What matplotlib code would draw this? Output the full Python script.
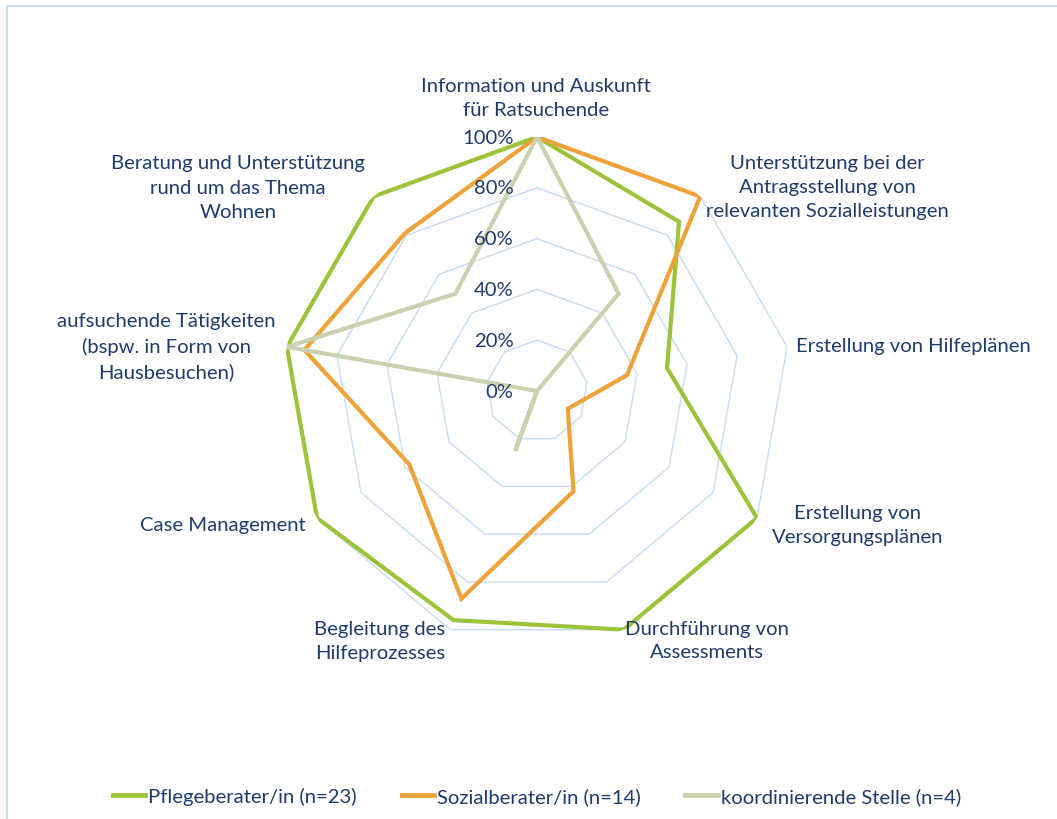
import numpy as np
import matplotlib
matplotlib.use("Agg")
import matplotlib.pyplot as plt
from matplotlib.lines import Line2D
from matplotlib.patches import Rectangle

plt.rcParams['font.family'] = ['Lato', 'DejaVu Sans']

categories = [
    "Information und Auskunft\nfür Ratsuchende",
    "Unterstützung bei der\nAntragsstellung von\nrelevanten Sozialleistungen",
    "Erstellung von Hilfeplänen",
    "Erstellung von\nVersorgungsplänen",
    "Durchführung von\nAssessments",
    "Begleitung des\nHilfeprozesses",
    "Case Management",
    "aufsuchende Tätigkeiten\n(bspw. in Form von\nHausbesuchen)",
    "Beratung und Unterstützung\nrund um das Thema\nWohnen",
]
series_names = ["Pflegeberater/in (n=23)", "Sozialberater/in (n=14)", "koordinierende Stelle (n=4)"]
pflege = [100, 87, 52, 100, 100, 96, 100, 100, 100]
sozial = [100, 100, 36, 14, 42, 87, 58, 93, 81]
koord = [100, 50, 0, 0, 0, 25, 0, 100, 50]
ticks = [0, 20, 40, 60, 80, 100]
tick_labels = ["0%", "20%", "40%", "60%", "80%", "100%"]

colors = ["#9DC33B", "#EEA23A", "#C9D1B1"]
grid_color = "#C6DDF4"
text_color = "#1F3C6B"
fs = 14.6

W, H = 1057, 820
fig = plt.figure(figsize=(W / 100, H / 100), dpi=100)

cx, cy, R = 537, H - 392, 254
ax = fig.add_axes([(cx - R) / W, (cy - R) / H, 2 * R / W, 2 * R / H], projection='polar')
ax.set_theta_zero_location('N')
ax.set_theta_direction(-1)
ax.set_ylim(0, 100)
ax.grid(False)
ax.spines['polar'].set_visible(False)
ax.set_xticks([])
ax.set_yticks([])
ax.patch.set_alpha(0)

n = len(categories)
theta = np.arange(n) * 2 * np.pi / n
theta_c = np.append(theta, theta[0])

for t in ticks[1:]:
    ax.plot(theta_c, [t] * (n + 1), color=grid_color, lw=1.0, zorder=1)

for vals, col in zip([pflege, sozial, koord], colors):
    v = np.append(vals, vals[0])
    ax.plot(theta_c, v, color=col, lw=3.0, solid_joinstyle='miter', zorder=3)

for t, lab in zip(ticks, tick_labels):
    ax.annotate(lab, xy=(0, t), xytext=(-17, 0), textcoords='offset points',
                ha='right', va='center', fontsize=fs, color=text_color, zorder=4)

# category label positions (text centre, pixels from top-left)
label_pos = [(536, 99), (827, 188), (913, 347), (858, 525), (707, 641),
             (380, 641), (223, 525), (166, 347), (238, 188)]
for lab, (px, py) in zip(categories, label_pos):
    fig.text(px / W, 1 - py / H, lab, ha='center', va='center', fontsize=fs,
             color=text_color, linespacing=1.5, multialignment='center')

handles = [Line2D([0], [0], color=c, lw=3.5) for c in colors]
leg = fig.legend(handles, series_names, loc='center', bbox_to_anchor=(537 / W, 1 - 797 / H),
                 ncol=3, frameon=False, fontsize=fs, handlelength=1.6, handletextpad=0.15,
                 columnspacing=2.2)
for t in leg.get_texts():
    t.set_color(text_color)

fig.patches.append(Rectangle((7 / W, -0.1), 1.2, 1.1 - 7 / H, transform=fig.transFigure,
                             fill=False, edgecolor="#C9DDF3", lw=1.5))

fig.savefig("out.png", dpi=100, facecolor='white')
